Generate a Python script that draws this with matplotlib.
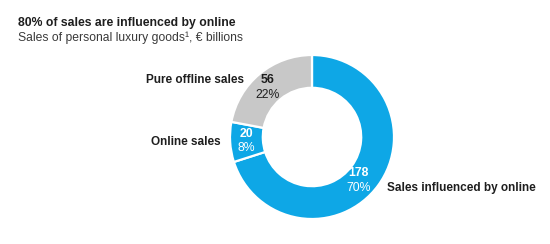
import matplotlib
matplotlib.use("Agg")
import matplotlib.pyplot as plt

# Sales of personal luxury goods, EUR billions
categories = ["Sales influenced by online", "Online sales", "Pure offline sales"]
values = [178, 20, 56]
shares = ["70%", "8%", "22%"]
colors = ["#0EA7E6", "#0EA7E6", "#C8C8C8"]

title = "80% of sales are influenced by online"
subtitle = "Sales of personal luxury goods\u00b9, \u20ac billions"

plt.rcParams["font.family"] = ["Liberation Sans", "DejaVu Sans"]
dark = "#1E1E1E"

fig = plt.figure(figsize=(5.5, 2.44), dpi=100)
fig.patch.set_facecolor("white")

W, H = 550, 244
cx, cy, r = 312, 137, 82
ax = fig.add_axes([(cx - r) / W, (H - cy - r) / H, 2 * r / W, 2 * r / H])
ax.pie(values, colors=colors, startangle=90, counterclock=False, radius=1,
       wedgeprops=dict(width=0.4, edgecolor="white", linewidth=1.6))
ax.set_xlim(-1, 1)
ax.set_ylim(-1, 1)
ax.set_aspect("equal")
ax.axis("off")

# value / share labels inside the ring
inner_pos = [(0.57, -0.53), (-0.80, -0.05), (-0.54, 0.60)]
inner_col = ["white", "white", dark]
for (x, y), v, s, c in zip(inner_pos, values, shares, inner_col):
    ax.text(x, y + 0.09, str(v), ha="center", va="center", fontsize=8.8,
            color=c, fontweight="bold")
    ax.text(x, y - 0.09, s, ha="center", va="center", fontsize=8.8, color=c)

# category names outside the ring
cat_pos = [(0.92, -0.62, "left"), (-1.12, -0.06, "right"), (-0.83, 0.695, "right")]
for (x, y, ha), name in zip(cat_pos, categories):
    ax.text(x, y, name, ha=ha, va="center", fontsize=8.5, color=dark,
            fontweight="bold")

fig.text(18 / W, 1 - 23 / H, title, ha="left", va="center", fontsize=8.8,
         fontweight="bold", color=dark)
fig.text(18 / W, 1 - 38 / H, subtitle, ha="left", va="center", fontsize=8.7,
         color="#3A3A3A")

fig.savefig("out.png", dpi=100, facecolor="white")
